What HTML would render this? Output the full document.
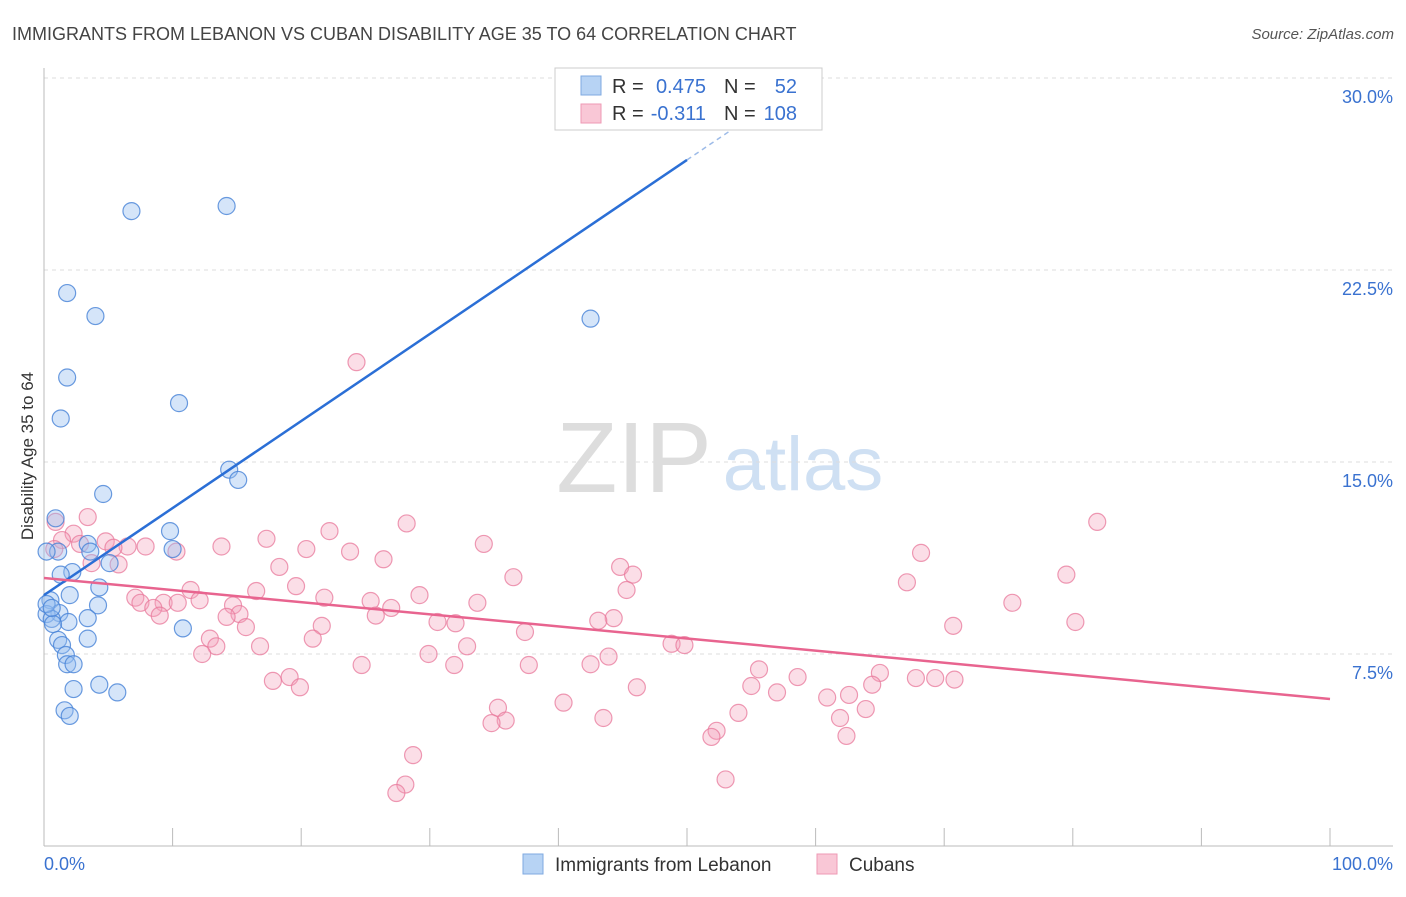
<!DOCTYPE html>
<html><head><meta charset="utf-8"><style>
body{margin:0;background:#fff;font-family:"Liberation Sans",sans-serif}
svg text{font-family:"Liberation Sans",sans-serif}
</style></head><body>
<svg id="c" width="1406" height="892">
<text x="12" y="40" font-size="18" fill="#444">IMMIGRANTS FROM LEBANON VS CUBAN DISABILITY AGE 35 TO 64 CORRELATION CHART</text>
<text x="1394" y="39" font-size="15" fill="#555" font-style="italic" text-anchor="end">Source: ZipAtlas.com</text>
<text x="33" y="456" font-size="17" fill="#333" text-anchor="middle" transform="rotate(-90 33 456)">Disability Age 35 to 64</text>
<g><text x="634" y="492" font-size="100" fill="#ddd" font-family="Liberation Serif" text-anchor="middle">ZIP</text><text x="803" y="490" font-size="76" fill="#cfe0f3" text-anchor="middle">atlas</text></g>
<g id="grid"></g><g id="axes"></g><g id="pts"></g><g id="trend"></g>
<g>
<rect x="555" y="68" width="267" height="62" fill="#fff" stroke="#ccc"/>
<rect x="581" y="76" width="20" height="19" fill="#b7d3f4" stroke="#7fa9e0"/>
<rect x="581" y="104" width="20" height="19" fill="#f9c7d6" stroke="#ee9ab4"/>
<text x="612" y="93" font-size="20" fill="#333">R =</text>
<text x="706" y="93" font-size="20" fill="#3a72d0" text-anchor="end">0.475</text>
<text x="724" y="93" font-size="20" fill="#333">N =</text>
<text x="797" y="93" font-size="20" fill="#3a72d0" text-anchor="end">52</text>
<text x="612" y="120" font-size="20" fill="#333">R =</text>
<text x="706" y="120" font-size="20" fill="#3a72d0" text-anchor="end">-0.311</text>
<text x="724" y="120" font-size="20" fill="#333">N =</text>
<text x="797" y="120" font-size="20" fill="#3a72d0" text-anchor="end">108</text>
</g>
<g>
<rect x="523" y="854" width="20" height="20" fill="#b7d3f4" stroke="#7fa9e0"/>
<text x="555" y="871" font-size="19" fill="#333">Immigrants from Lebanon</text>
<rect x="817" y="854" width="20" height="20" fill="#f9c7d6" stroke="#ee9ab4"/>
<text x="849" y="871" font-size="19" fill="#333">Cubans</text>
</g>
</svg>
<script>
const yTicks=[7.5,15,22.5,30];
const yTickLabels=["7.5%","15.0%","22.5%","30.0%"];
const xTickLabels=["0.0%","100.0%"];
const blueX=[6.8,14.2,1.8,4.0,42.5,1.8,10.5,1.3,14.4,15.1,4.6,0.9,9.8,3.4,10.0,1.1,0.2,3.6,5.1,2.2,1.3,4.3,2.0,0.5,4.2,1.2,0.2,3.4,0.6,1.9,0.7,10.8,3.4,1.1,1.4,1.7,1.8,2.3,2.3,4.3,5.7,1.6,2.0,0.2,0.6];
const blueY=[24.8,25.0,21.6,20.7,20.6,18.3,17.3,16.7,14.7,14.3,13.75,12.8,12.3,11.8,11.6,11.5,11.5,11.5,11.05,10.7,10.6,10.1,9.8,9.6,9.4,9.1,9.06,8.9,8.87,8.75,8.67,8.5,8.1,8.05,7.85,7.46,7.1,7.1,6.13,6.3,6.0,5.3,5.08,9.45,9.3];
const pinkX=[24.3,81.9,28.2,3.4,22.2,17.3,2.3,0.9,1.4,34.2,4.8,6.5,7.9,5.4,13.8,20.4,23.8,10.3,68.2,26.4,3.7,5.8,18.3,44.8,45.8,79.5,36.5,19.6,11.4,45.3,67.1,16.5,29.2,7.1,21.8,12.1,25.4,7.5,9.3,10.4,75.3,33.7,14.7,8.5,27.0,25.8,15.2,14.2,9.0,44.3,43.1,30.6,32.0,80.2,21.6,15.7,70.7,37.4,12.9,20.9,13.4,16.8,32.9,48.8,49.8,12.3,29.9,43.9,24.7,31.9,37.7,42.5,55.6,65.0,19.1,58.6,17.8,19.9,46.1,55.0,67.8,69.3,70.8,64.4,57.0,60.9,62.6,40.4,35.3,63.9,54.0,43.5,61.9,35.9,34.8,52.3,51.9,62.4,28.7,28.1,27.4,53.0,0.8,2.8];
const pinkY=[18.9,12.66,12.6,12.85,12.3,12.0,12.2,12.66,11.95,11.8,11.9,11.7,11.7,11.65,11.7,11.6,11.5,11.5,11.45,11.2,11.05,11.0,10.9,10.9,10.6,10.6,10.5,10.15,10.0,10.0,10.3,9.96,9.8,9.7,9.7,9.6,9.57,9.5,9.5,9.5,9.5,9.5,9.4,9.3,9.3,9.0,9.06,8.95,9.0,8.9,8.8,8.75,8.7,8.75,8.6,8.55,8.6,8.36,8.1,8.1,7.8,7.8,7.8,7.9,7.85,7.5,7.5,7.4,7.07,7.07,7.07,7.1,6.9,6.76,6.6,6.6,6.45,6.2,6.2,6.25,6.56,6.56,6.5,6.3,6.0,5.8,5.9,5.6,5.4,5.35,5.2,5.0,5.0,4.9,4.8,4.5,4.26,4.3,3.55,2.4,2.07,2.6,11.6,11.8];
const blueTrendX=[0,50,55.6];
const blueTrendY=[9.8,26.8,28.7];
const pinkTrendX=[0,100];
const pinkTrendY=[10.47,5.74];
const NS="http://www.w3.org/2000/svg";
const X=v=>44+v*12.86, Y=v=>846-v*25.6;
function mk(p,t,a){const e=document.createElementNS(NS,t);for(const k in a)e.setAttribute(k,a[k]);p.appendChild(e);return e;}
const grid=document.getElementById('grid'),axes=document.getElementById('axes'),pts=document.getElementById('pts'),tr=document.getElementById('trend');
yTicks.forEach((t,i)=>{
 const g=mk(grid,'line',{x1:44,x2:1393,y1:Y(t),y2:Y(t),stroke:'#ddd','stroke-dasharray':'4,4'});
 
 
 const l=mk(axes,'text',{x:1393,y:Y(t)+25,'font-size':18,fill:'#3a72d0','text-anchor':'end'});l.textContent=yTickLabels[i];
 
 
});
const ya=mk(axes,'line',{x1:44,x2:44,y1:68,y2:846,stroke:'#bbb'});


const xa=mk(axes,'line',{x1:44,x2:1393,y1:846,y2:846,stroke:'#bbb'});


for(let i=0;i<=10;i++){const t=mk(axes,'line',{x1:X(i*10),x2:X(i*10),y1:828,y2:846,stroke:'#bbb'});
 
 }
[[0,'start',44],[1,'end',1393]].forEach(([i,a,x])=>{const l=mk(axes,'text',{x:x,y:870,'font-size':18,fill:'#3a72d0','text-anchor':a});l.textContent=xTickLabels[i];
 
 });
pinkX.forEach((v,i)=>{const c=mk(pts,'circle',{cx:X(v),cy:Y(pinkY[i]),r:8.5,fill:'rgba(244,160,186,0.35)',stroke:'rgba(232,120,155,0.75)','stroke-width':1.2});
 
 });
blueX.forEach((v,i)=>{const c=mk(pts,'circle',{cx:X(v),cy:Y(blueY[i]),r:8.5,fill:'rgba(150,190,240,0.4)',stroke:'rgba(70,130,215,0.8)','stroke-width':1.2});
 
 });
const b1=mk(tr,'line',{x1:X(blueTrendX[0]),y1:Y(blueTrendY[0]),x2:X(blueTrendX[1]),y2:Y(blueTrendY[1]),stroke:'#2b6fd6','stroke-width':2.5});


const b2=mk(tr,'line',{x1:X(blueTrendX[1]),y1:Y(blueTrendY[1]),x2:X(blueTrendX[2]),y2:Y(blueTrendY[2]),stroke:'#9dbbe8','stroke-width':1.5,'stroke-dasharray':'5,4'});


const p1=mk(tr,'line',{x1:X(pinkTrendX[0]),y1:Y(pinkTrendY[0]),x2:X(pinkTrendX[1]),y2:Y(pinkTrendY[1]),stroke:'#e8648f','stroke-width':2.5});


</script>
</body></html>
